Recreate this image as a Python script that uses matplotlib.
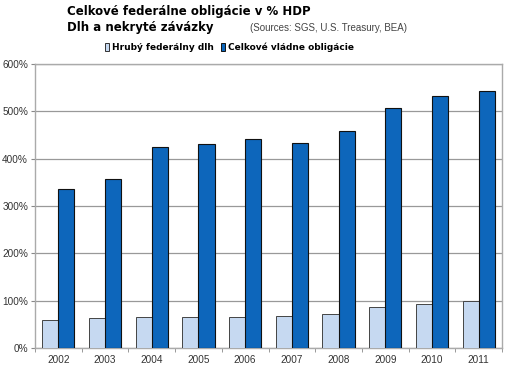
import numpy as np
import matplotlib
matplotlib.use("Agg")
import matplotlib.pyplot as plt
from matplotlib.patches import Patch

years = ["2002", "2003", "2004", "2005", "2006", "2007", "2008", "2009", "2010", "2011"]
gross_debt = [59, 63, 65, 65, 65, 67, 71, 86, 94, 100]
total_obligations = [335, 356, 425, 431, 441, 434, 458, 508, 533, 542]

light = "#c6d9f1"
dark = "#0d66bb"

fig = plt.figure(figsize=(5.09, 3.71), dpi=100)
ax = fig.add_axes([35 / 509, 1 - 348 / 371, 467 / 509, 284 / 371])

x = np.arange(len(years))
w = 0.345
ax.bar(x - w / 2, gross_debt, w, color=light, edgecolor="#444444", linewidth=0.7, zorder=3)
ax.bar(x + w / 2, total_obligations, w, color=dark, edgecolor="#111111", linewidth=0.8, zorder=3)

ax.set_xlim(-0.5, len(years) - 0.5)
ax.set_ylim(0, 600)
ax.set_yticks(range(0, 601, 100))
ax.set_yticklabels([f"{v}%" for v in range(0, 601, 100)])
ax.set_xticks(x)
ax.set_xticklabels(years)
ax.set_xticks(np.arange(-0.5, len(years), 1), minor=True)
ax.tick_params(axis="x", which="major", length=0, pad=5)
ax.tick_params(axis="x", which="minor", length=3, color="#888888")
ax.tick_params(axis="y", length=3, color="#888888", pad=2)
for lab in ax.get_xticklabels() + ax.get_yticklabels():
    lab.set_fontsize(7.2)
    lab.set_color("#333333")
    lab.set_family("Liberation Sans")
ax.grid(axis="y", color="#999999", linewidth=0.9, zorder=0)
for s in ax.spines.values():
    s.set_color("#aaaaaa")
    s.set_linewidth(1.0)

fig.text(67 / 509, 1 - 11 / 371, "Celkové federálne obligácie v % HDP",
         fontsize=8.5, fontweight="bold", va="center", ha="left")
fig.text(67 / 509, 1 - 28 / 371, "Dlh a nekryté závázky",
         fontsize=8.5, fontweight="bold", va="center", ha="left")
fig.text(250 / 509, 1 - 28 / 371, "(Sources: SGS, U.S. Treasury, BEA)",
         fontsize=7, color="#444444", va="center", ha="left", family="Liberation Sans")

handles = [Patch(facecolor=light, edgecolor="#333333", linewidth=0.7),
           Patch(facecolor=dark, edgecolor="#111111", linewidth=0.7)]
fig.legend(handles, ["Hrubý federálny dlh", "Celkové vládne obligácie"],
           loc="center left", bbox_to_anchor=(100 / 509, 1 - 47 / 371), ncol=2,
           frameon=False, handlelength=0.5, handleheight=1.0,
           handletextpad=0.3, columnspacing=0.8, borderpad=0,
           prop={"weight": "bold", "size": 6.5})

fig.savefig("out.png", dpi=100)
